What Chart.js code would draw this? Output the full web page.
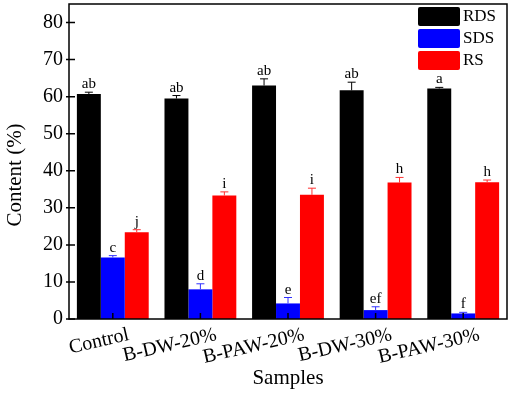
<!DOCTYPE html>
<html>
<head>
<meta charset="utf-8">
<script src="https://cdn.jsdelivr.net/npm/chart.js@4.4.0/dist/chart.umd.min.js"></script>
<style>
  html, body { margin: 0; padding: 0; background: #fff; }
  #wrap { width: 510px; height: 395px; }
</style>
</head>
<body>
<div id="wrap"><canvas id="c" width="510" height="395"></canvas></div>
<script>
// starch fractions per sample
const samples = ["Control", "B-DW-20%", "B-PAW-20%", "B-DW-30%", "B-PAW-30%"];
const rds = [60.7, 59.5, 63.0, 61.7, 62.2];
const rdsErr = [0.5, 0.8, 1.8, 2.2, 0.3];
const sds = [16.6, 8.0, 4.2, 2.4, 1.5];
const sdsErr = [0.5, 1.5, 1.6, 0.9, 0.3];
const rs = [23.4, 33.3, 33.5, 36.8, 36.9];
const rsErr = [0.7, 1.0, 1.8, 1.4, 0.6];
const rdsLetters = ["ab", "ab", "ab", "ab", "a"];
const sdsLetters = ["c", "d", "e", "ef", "f"];
const rsLetters = ["j", "i", "i", "h", "h"];
const yTicks = [0, 10, 20, 30, 40, 50, 60, 70, 80];

const serif = "'Liberation Serif', 'Times New Roman', serif";

const errs = [rdsErr, sdsErr, rsErr];
const letters = [rdsLetters, sdsLetters, rsLetters];
const errColors = ["#000000", "#3030ff", "#ff3030"];

// error bars, letters, frame, ticks, legend
const decor = {
  id: "decor",
  afterDatasetsDraw(chart) {
    const ctx = chart.ctx;
    const a = chart.chartArea;
    const y = chart.scales.y;
    const x = chart.scales.x;

    chart.data.datasets.forEach((ds, di) => {
      const meta = chart.getDatasetMeta(di);
      meta.data.forEach((bar, i) => {
        const v = ds.data[i];
        const top = y.getPixelForValue(v + errs[di][i]);
        const yv = y.getPixelForValue(v);
        ctx.save();
        ctx.strokeStyle = errColors[di];
        ctx.lineWidth = 1;
        ctx.beginPath();
        ctx.moveTo(bar.x, yv);
        ctx.lineTo(bar.x, top);
        ctx.moveTo(bar.x - 4, top);
        ctx.lineTo(bar.x + 4, top);
        ctx.stroke();
        ctx.fillStyle = "#000";
        ctx.font = "15px " + serif;
        ctx.textAlign = "center";
        ctx.textBaseline = "alphabetic";
        ctx.fillText(letters[di][i], bar.x, top - 4);
        ctx.restore();
      });
    });

    ctx.save();
    ctx.strokeStyle = "#000";
    ctx.lineWidth = 1.5;
    ctx.strokeRect(a.left, a.top, a.right - a.left, a.bottom - a.top);
    ctx.beginPath();
    yTicks.forEach(t => {
      const py = y.getPixelForValue(t);
      ctx.moveTo(a.left - 3, py);
      ctx.lineTo(a.left + 6, py);
    });
    samples.forEach((s, i) => {
      const px = x.getPixelForValue(i);
      ctx.moveTo(px, a.bottom);
      ctx.lineTo(px, a.bottom - 6);
    });
    ctx.stroke();

    // legend
    ctx.font = "17px " + serif;
    ctx.textAlign = "left";
    ctx.textBaseline = "middle";
    chart.data.datasets.forEach((ds, di) => {
      const by = 7 + di * 22;
      ctx.fillStyle = ds.backgroundColor;
      ctx.beginPath();
      ctx.roundRect(418, by, 42, 19, 2);
      ctx.fill();
      ctx.fillStyle = "#000";
      ctx.fillText(ds.label, 463, by + 10);
    });

    // y title
    ctx.translate(15, 175);
    ctx.rotate(-Math.PI / 2);
    ctx.textAlign = "center";
    ctx.font = "21px " + serif;
    ctx.fillText("Content (%)", 0, 0);
    ctx.restore();
  }
};

new Chart(document.getElementById("c"), {
  type: "bar",
  data: {
    labels: samples,
    datasets: [
      { label: "RDS", data: rds, backgroundColor: "#000000" },
      { label: "SDS", data: sds, backgroundColor: "#0000ff" },
      { label: "RS", data: rs, backgroundColor: "#ff0000" }
    ]
  },
  options: {
    responsive: false,
    animation: false,
    layout: { padding: { top: 4, right: 3, left: 0, bottom: 0 } },
    datasets: { bar: { categoryPercentage: 0.82, barPercentage: 1.0 } },
    plugins: { legend: { display: false }, tooltip: { enabled: false } },
    scales: {
      x: {
        grid: { display: false, drawTicks: false },
        border: { display: false },
        ticks: {
          color: "#000",
          font: { family: serif, size: 20 },
          autoSkip: false,
          minRotation: 13,
          maxRotation: 13,
          labelOffset: 16,
          padding: 4
        },
        title: {
          display: true,
          text: "Samples",
          color: "#000",
          font: { family: serif, size: 21 },
          padding: { top: 0, bottom: 4 }
        },
        afterFit(s) {
          s.height = 76;
          s.paddingLeft = 0;
          s.paddingRight = 0;
        }
      },
      y: {
        min: 0,
        max: 85,
        grid: { display: false, drawTicks: false },
        border: { display: false },
        afterBuildTicks(s) { s.ticks = yTicks.map(v => ({ value: v })); },
        ticks: {
          color: "#000",
          font: { family: serif, size: 20 },
          padding: 6
        },
        afterFit(s) {
          s.width = 69;
          s.paddingTop = 0;
          s.paddingBottom = 0;
        }
      }
    }
  },
  plugins: [decor]
});
</script>
</body>
</html>
